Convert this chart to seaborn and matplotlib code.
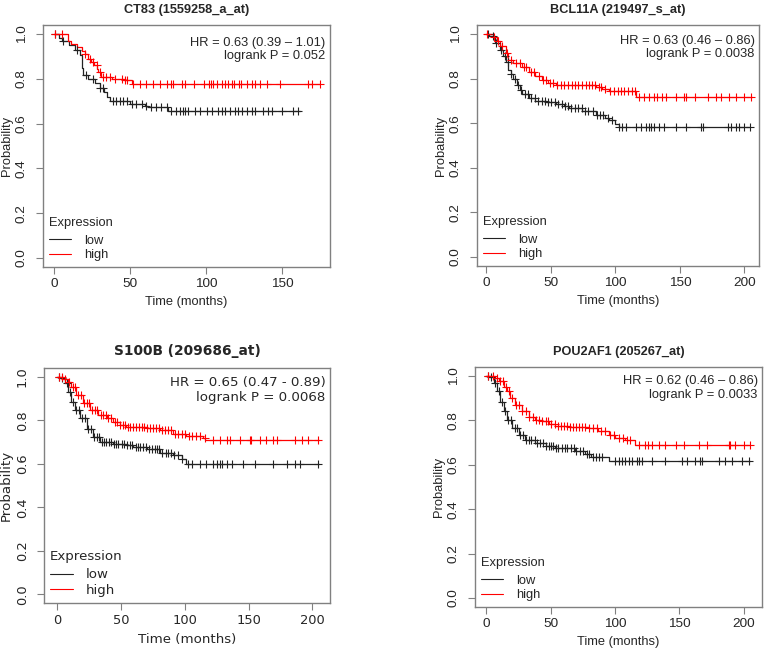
import numpy as np
import matplotlib
matplotlib.use("Agg")
import matplotlib.pyplot as plt
import seaborn as sns

sns.set_style("ticks")
plt.rcParams["font.family"] = ["Liberation Sans", "DejaVu Sans"]

# ─────────────────────────────────────────────────────────────────────────────
# Data (months, survival probability)
# ─────────────────────────────────────────────────────────────────────────────
# CT83 (1559258_a_at)
ct83_low_t = [0, 3, 5, 10, 14, 17, 18, 19, 22, 27, 30, 33, 35, 37, 50, 60, 62, 75, 162]
ct83_low_s = [1.0, 0.98, 0.97, 0.95, 0.93, 0.905, 0.85, 0.815, 0.80, 0.78, 0.76, 0.74,
              0.72, 0.70, 0.688, 0.678, 0.672, 0.657, 0.657]
ct83_low_cens = [0.5, 6, 14.7, 21, 25.7, 30, 32, 39, 41, 43, 45.4, 47.6, 51, 54, 57.5,
                 60.7, 64, 67, 70.6, 74, 77, 80.5, 83, 84.5, 86, 88, 92.7, 95.9, 100.3,
                 103.6, 108, 110.2, 112.4, 115.7, 119, 121.2, 123.4, 126.7, 130, 132.2,
                 137.7, 141, 143.2, 149.8, 157.4, 160.7]
ct83_high_t = [0, 9, 11, 15, 18, 20, 22, 24, 26, 28, 29, 31, 38, 46, 51, 175]
ct83_high_s = [1.0, 0.97, 0.955, 0.94, 0.925, 0.91, 0.89, 0.875, 0.86, 0.845, 0.83, 0.81,
               0.80, 0.795, 0.778, 0.778]
ct83_high_cens = [0.5, 4.8, 20.2, 23.5, 25.7, 27.9, 30, 31.8, 34, 36.6, 40, 44.3, 46.5,
                  47.6, 52, 56.4, 60.7, 65, 69.5, 74, 77, 78.3, 84, 86.3, 91.8, 98.4,
                  101.6, 103, 104.8, 107, 110.3, 112.5, 114.6, 116.8, 118.4, 121.9,
                  122.8, 126.7, 130, 132.2, 135.5, 139.9, 148.7, 167.3, 169.5, 175]

# BCL11A (219497_s_at)
bcl_low_t = [0, 2, 7, 11, 13, 15, 17, 19, 21, 24, 26, 28, 33, 38, 46, 54, 60, 64, 74,
             85, 92, 95, 100, 103, 204]
bcl_low_s = [1.0, 0.99, 0.96, 0.93, 0.90, 0.875, 0.84, 0.82, 0.80, 0.77, 0.75, 0.73,
             0.715, 0.70, 0.695, 0.687, 0.678, 0.67, 0.654, 0.636, 0.625, 0.614, 0.595,
             0.584, 0.584]
bcl_low_cens = [1.3, 5.2, 7.8, 11.7, 14.3, 16.9, 19.5, 22, 24.6, 27.2, 29.8, 32.4, 35,
                37.6, 40.2, 42.8, 45.4, 48, 50.5, 53, 55.7, 58.3, 60.9, 63.5, 66, 68.6,
                71.2, 73.8, 76.4, 79, 83, 85.5, 88, 90.7, 94.6, 97.2, 103, 105.4, 108,
                115.8, 119.7, 123.6, 126, 127.5, 130, 134, 137.8, 147, 154.7, 166,
                167.6, 187, 189.7, 193.5, 196, 200, 204]
bcl_high_t = [0, 5, 8, 11, 15, 17, 21, 28, 33, 38, 43, 48, 54, 85, 90, 95, 116, 206]
bcl_high_s = [1.0, 0.985, 0.97, 0.945, 0.915, 0.885, 0.87, 0.85, 0.83, 0.81, 0.795,
              0.78, 0.77, 0.762, 0.755, 0.743, 0.716, 0.716]
bcl_high_cens = [0.5, 5.7, 9, 12.5, 16, 19, 23, 26, 29.5, 31, 34.5, 37, 40.5, 44, 46,
                 49.5, 52, 55, 57.5, 60, 63, 66.5, 69, 71, 74, 77, 79.5, 82, 84.5, 87,
                 89, 92, 96, 99, 102, 104.5, 107, 110, 113, 115, 118, 122, 126, 130,
                 132.6, 136.5, 139, 147, 153, 154.7, 162, 171.5, 178, 182, 188, 193.5,
                 200, 205]

# S100B (209686_at)
s100_low_t = [0, 2, 6, 8.6, 11, 14, 17.8, 23, 28, 33.5, 44, 54, 59.6, 70, 80.5, 91,
              97.5, 101, 205]
s100_low_s = [1.0, 0.995, 0.97, 0.93, 0.885, 0.846, 0.808, 0.76, 0.723, 0.70, 0.692,
              0.685, 0.677, 0.666, 0.65, 0.64, 0.623, 0.598, 0.598]
s100_low_cens = [1, 4, 7.5, 10, 12.5, 15, 17, 19.5, 21.5, 24, 26.5, 29, 31, 33, 35, 37,
                 38.5, 40.5, 42, 44.5, 46, 48, 50.5, 52.5, 55, 57, 59, 61.5, 63.5, 65,
                 67, 69.5, 72, 74, 76.5, 78, 80, 82.5, 85, 87, 89, 91.5, 95, 98, 102.7,
                 105.4, 112, 117, 122, 125, 127.6, 129, 132.8, 136.7, 146, 155, 169.4,
                 180, 186.4, 190, 204.7]
s100_high_t = [0, 4.7, 8.6, 11, 15, 20, 25.6, 32, 38.7, 44, 49, 54, 70, 80.5, 91, 101,
               114.5, 116, 205]
s100_high_s = [1.0, 0.99, 0.977, 0.954, 0.915, 0.877, 0.846, 0.823, 0.808, 0.79, 0.78,
               0.77, 0.765, 0.754, 0.738, 0.728, 0.718, 0.708, 0.708]
s100_high_cens = [1, 3.5, 6, 9.5, 12, 14, 16.5, 18.5, 21, 23, 25, 27.5, 29.5, 31.5, 34,
                  36, 38, 40, 42.5, 45, 47, 49.5, 51.5, 53, 55.5, 57, 59.5, 62, 64,
                  66.5, 68, 70.5, 73, 75, 77.5, 80, 82, 84.5, 87, 89.5, 92, 95, 97.5,
                  100, 103, 106, 109, 112, 115.8, 122, 127.6, 132.8, 135.4, 143, 151,
                  151.6, 159, 164, 169.4, 172, 186.4, 191.6, 197, 204.7]

# POU2AF1 (205267_at)
pou_low_t = [0, 1.8, 5.7, 8.3, 11, 13.5, 16, 20, 25, 30, 38, 46, 53.6, 69, 77, 81, 95,
             205]
pou_low_s = [1.0, 0.994, 0.967, 0.93, 0.884, 0.84, 0.803, 0.764, 0.734, 0.711, 0.696,
             0.684, 0.674, 0.663, 0.65, 0.637, 0.618, 0.618]
pou_low_cens = [1, 4, 7, 9.5, 12, 14.5, 17, 19.5, 22, 24, 26.5, 28.5, 31, 33, 35, 37.5,
                39.5, 41.5, 44, 46, 48.5, 50.5, 52, 54.5, 56, 58.5, 61, 63, 65.5, 68,
                70, 72.5, 75, 78, 80, 82.5, 85, 87.5, 90, 100.3, 103, 105.4, 108,
                110.6, 113, 117, 118.4, 121, 128.8, 139, 152, 156, 162.4, 166, 167.6,
                180.6, 185.8, 191, 198.7, 204]
pou_high_t = [0, 7, 9.6, 13.5, 16, 18.7, 22.5, 27.7, 33, 38, 43, 48.4, 53.6, 64, 79.5,
              87, 95, 100, 108, 115.8, 205]
pou_high_s = [1.0, 0.99, 0.975, 0.952, 0.93, 0.90, 0.87, 0.84, 0.817, 0.80, 0.795,
              0.783, 0.774, 0.768, 0.764, 0.75, 0.734, 0.72, 0.711, 0.689, 0.689]
pou_high_cens = [1, 5, 8, 11, 13, 15, 17.5, 20, 23, 25.5, 28, 30.5, 33.5, 36, 38.5, 41,
                 43.5, 46, 48, 50.5, 53, 55.5, 58, 60, 62.5, 65, 67, 69.5, 72, 74.5, 77,
                 80, 83, 86, 89, 92, 96, 99, 103, 106, 109, 112, 118.4, 123.6, 126,
                 128.8, 134, 139, 147, 153.4, 165, 171.5, 188.3, 189.6, 193.5, 200, 205]

titles = ["CT83 (1559258_a_at)", "BCL11A (219497_s_at)",
          "S100B (209686_at)", "POU2AF1 (205267_at)"]
hr_labels = ["HR = 0.63 (0.39 \u2013 1.01)", "HR = 0.63 (0.46 \u2013 0.86)",
             "HR = 0.65 (0.47 - 0.89)", "HR = 0.62 (0.46 \u2013 0.86)"]
p_labels = ["logrank P = 0.052", "logrank P = 0.0038",
            "logrank P = 0.0068", "logrank P = 0.0033"]
x_ticks = [[0, 50, 100, 150], [0, 50, 100, 150, 200],
           [0, 50, 100, 150, 200], [0, 50, 100, 150, 200]]
y_ticks = [0.0, 0.2, 0.4, 0.6, 0.8, 1.0]

curves = [
    ((ct83_low_t, ct83_low_s, ct83_low_cens), (ct83_high_t, ct83_high_s, ct83_high_cens)),
    ((bcl_low_t, bcl_low_s, bcl_low_cens), (bcl_high_t, bcl_high_s, bcl_high_cens)),
    ((s100_low_t, s100_low_s, s100_low_cens), (s100_high_t, s100_high_s, s100_high_cens)),
    ((pou_low_t, pou_low_s, pou_low_cens), (pou_high_t, pou_high_s, pou_high_cens)),
]

# ─────────────────────────────────────────────────────────────────────────────
# Layout (pixel frames of each panel: left, top, right, bottom) and x-limits
# ─────────────────────────────────────────────────────────────────────────────
W, H = 764, 650
frames = [(43, 25, 330, 267), (477, 25, 759, 266),
          (44, 368, 330, 603), (475, 367, 762, 607)]
xlims = [(-7.4, 181.6), (-7.2, 211.3), (-10.4, 213.9), (-8.8, 214.2)]
fonts = [["Liberation Sans"], ["Liberation Sans"], ["DejaVu Sans"], ["Liberation Sans"]]
hr_y = [0.95, 0.96, 0.965, 0.965]
FRAME = "#808080"


def step_lookup(t, s, ct):
    idx = np.searchsorted(np.asarray(t), np.asarray(ct), side="right") - 1
    return np.asarray(s)[idx]


fig = plt.figure(figsize=(W / 100, H / 100), dpi=100)

for i in range(4):
    l, t, r, b = frames[i]
    ax = fig.add_axes([l / W, 1 - b / H, (r - l) / W, (b - t) / H])
    fam = fonts[i]
    big = fam == ["DejaVu Sans"]
    fs = 9.6 if big else 9.3
    tick_fs = 9.4 if big else 9.7

    for (tt, ss, cc), color, lab in zip(curves[i], ["#222222", "#ff0000"], ["low", "high"]):
        sns.lineplot(x=tt, y=ss, ax=ax, color=color, linewidth=0.9,
                     drawstyle="steps-post", estimator=None, label=lab)
        sns.scatterplot(x=cc, y=step_lookup(tt, ss, cc), ax=ax, color=color,
                        marker="+", s=30, linewidth=0.8, legend=False, zorder=3)

    ax.set_xlim(*xlims[i])
    ax.set_ylim(-0.04, 1.04)
    ax.set_xticks(x_ticks[i])
    ax.set_yticks(y_ticks)
    ax.set_yticklabels([f"{v:.1f}" for v in y_ticks], rotation=90, va="center",
                       family=fam, fontsize=tick_fs)
    ax.set_xticklabels([str(v) for v in x_ticks[i]], family=fam, fontsize=tick_fs)
    ax.tick_params(length=5, width=0.8, color=FRAME)
    ax.tick_params(axis="x", pad=3)
    ax.tick_params(axis="y", pad=6)
    for sp in ax.spines.values():
        sp.set_color(FRAME)
        sp.set_linewidth(1.0)

    ax.set_xlabel("Time (months)", family=fam, fontsize=fs, labelpad=4)
    ax.set_ylabel("Probability", family=fam, fontsize=fs, labelpad=2)
    ax.set_title(titles[i], family=fam, fontsize=9.9 if big else 9.2,
                 fontweight="bold", pad=9)

    ax.text(0.985, hr_y[i], hr_labels[i] + "\n" + p_labels[i], transform=ax.transAxes,
            ha="right", va="top", family=fam, fontsize=fs, linespacing=1.15)

    leg = ax.legend(loc="lower left", title="Expression", frameon=False,
                    prop={"family": fam, "size": fs}, handlelength=1.7,
                    handletextpad=1.0, borderaxespad=0.05, labelspacing=0.2,
                    alignment="left")
    leg.get_title().set_family(fam)
    leg.get_title().set_fontsize(fs)
    leg._legend_box.sep = 4
    for line in leg.get_lines():
        line.set_linewidth(0.8)

fig.savefig("out.png", dpi=100)
